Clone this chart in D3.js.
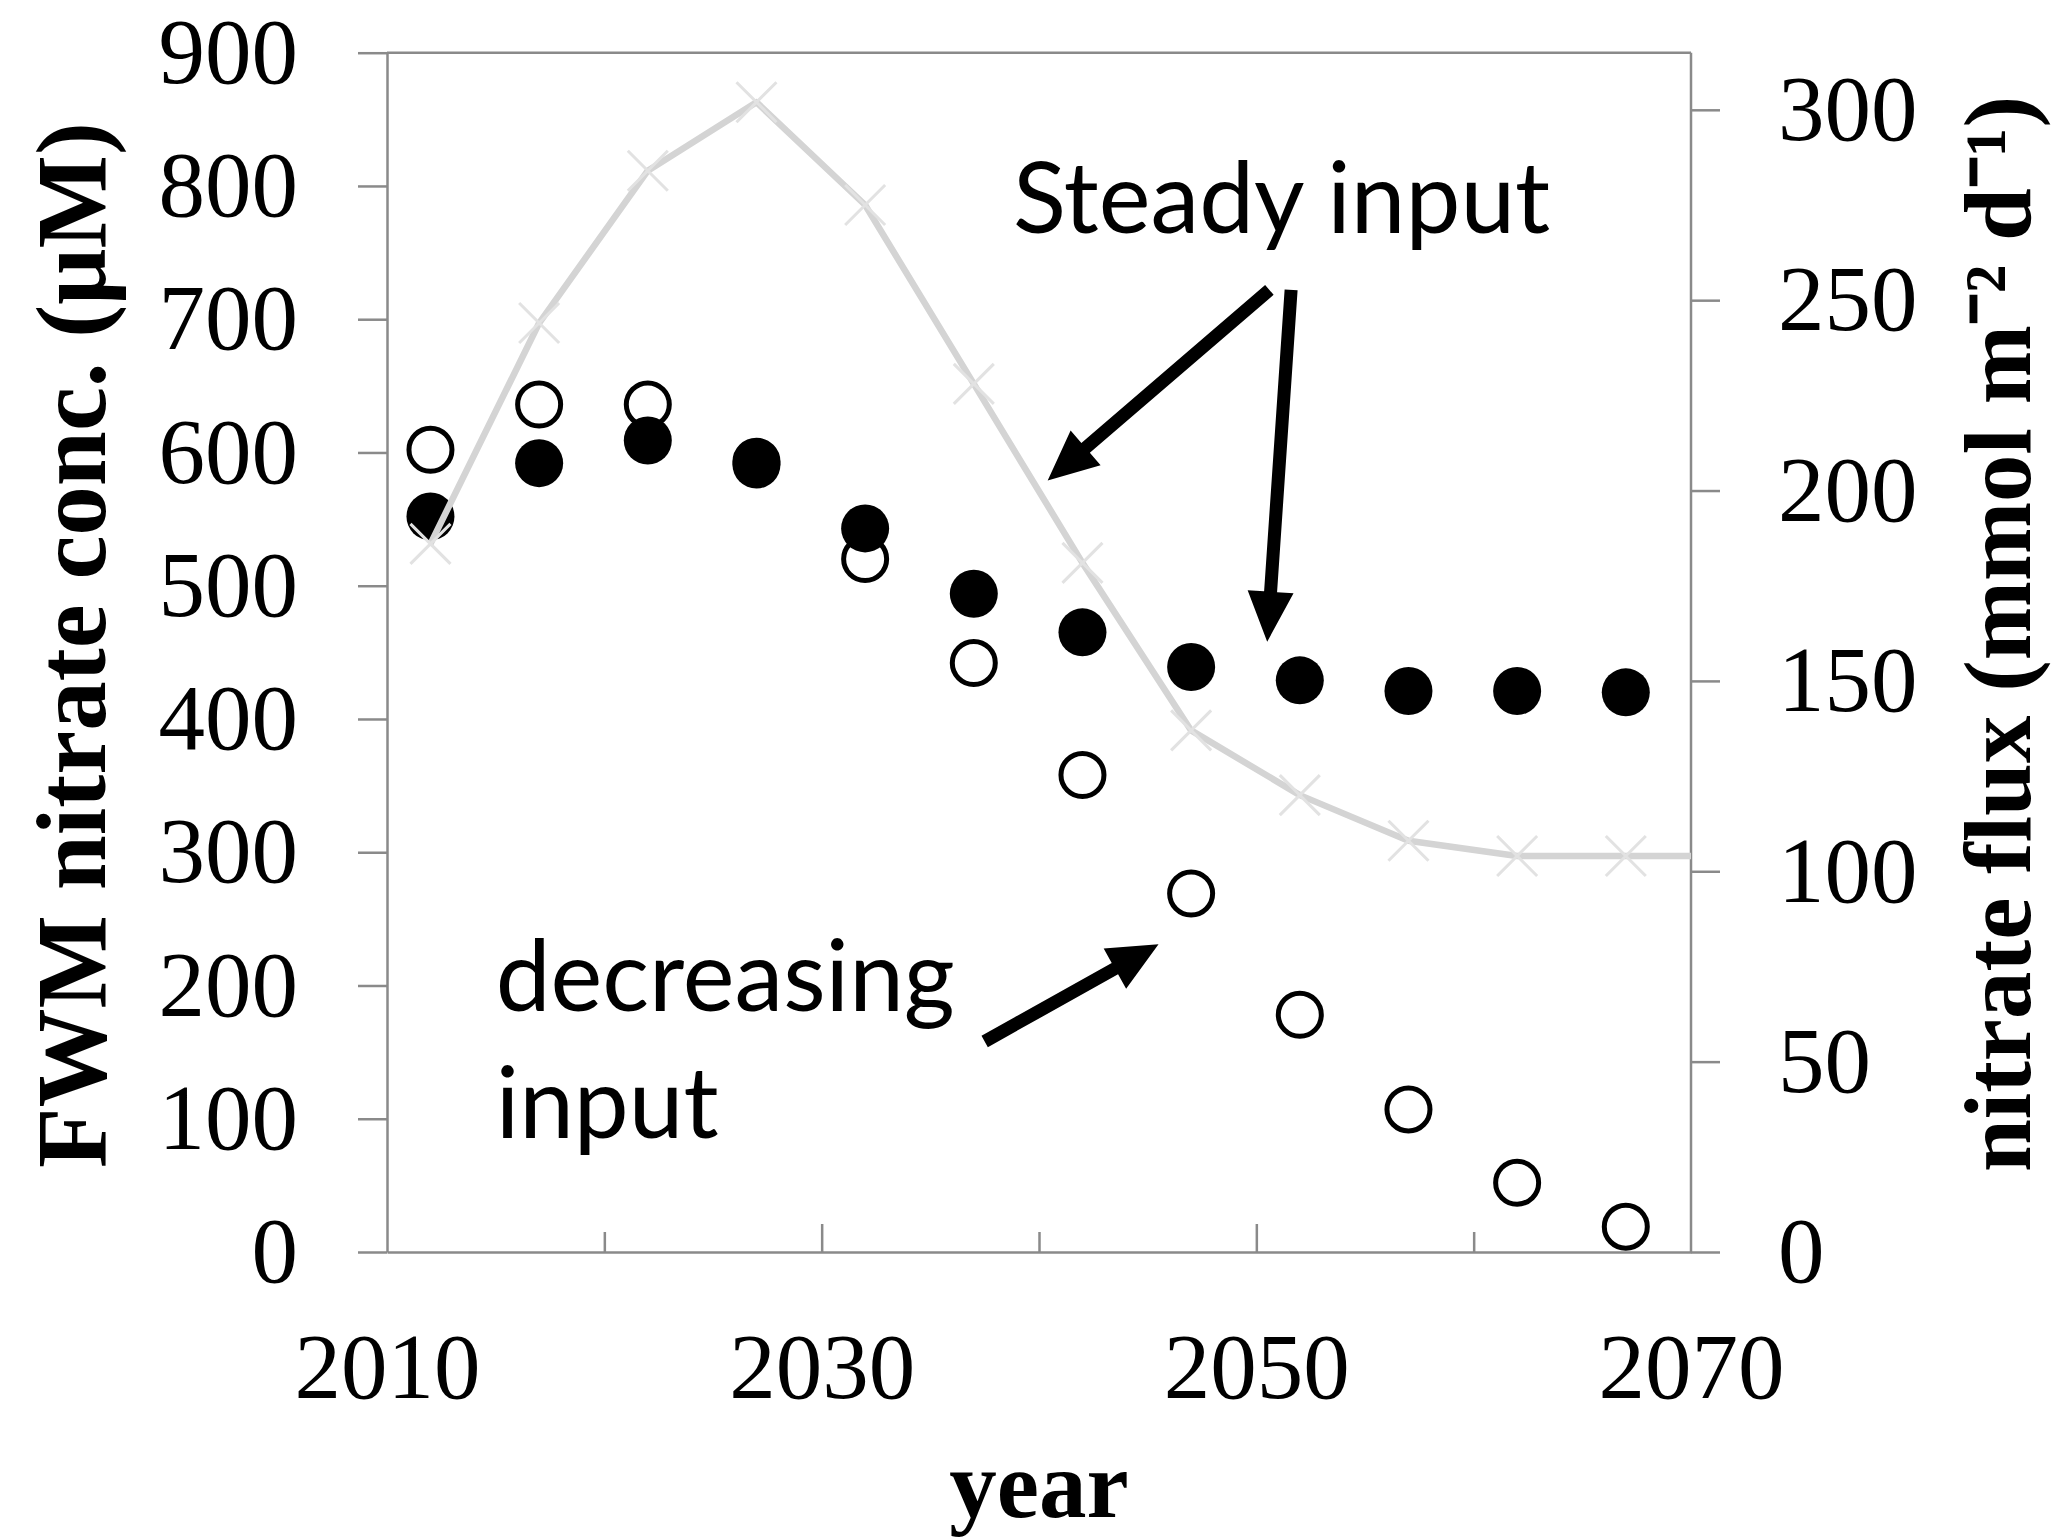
<!DOCTYPE html>
<html>
<head>
<meta charset="utf-8">
<script src="https://cdn.jsdelivr.net/npm/d3@7"></script>
<style>
  html, body { margin: 0; padding: 0; background: #fff; }
  svg { display: block; }
</style>
</head>
<body>
<svg id="chart" width="2065" height="1538"></svg>
<script>
// Model years (5-year steps)
const years = [2012, 2017, 2022, 2027, 2032, 2037, 2042, 2047, 2052, 2057, 2062, 2067];
// FWM nitrate concentration (µM), steady nitrogen input scenario (filled circles)
const steadyInput = [552, 592, 609, 591, 543, 494, 465, 439, 429, 421, 421, 420];
// FWM nitrate concentration (µM), decreasing nitrogen input scenario (open circles)
const decreasingInput = [602, 636, 636, 593, 520, 442, 358, 269, 178, 107, 52, 19];
// Nitrate flux (mmol m-2 d-1), right axis; the last value carries the plateau past the frame
const fluxYears = [2012, 2017, 2022, 2027, 2032, 2037, 2042, 2047, 2052, 2057, 2062, 2067, 2072];
const nitrateFlux = [186, 244, 284, 302, 275, 228, 181, 137, 120, 108, 104, 104, 104];

// Tick values
const leftTicks = [0, 100, 200, 300, 400, 500, 600, 700, 800, 900];
const rightTicks = [0, 50, 100, 150, 200, 250, 300];
const yearLabels = [2010, 2030, 2050, 2070];
const yearMajor = [2030, 2050];
const yearMinor = [2020, 2040, 2060];

// Annotations, anchored in data units (year, left-axis value)
const annotations = [
  { text: "Steady input", year: 2038.8, value: 765 },
  { text: "decreasing", year: 2015.0, value: 181 },
  { text: "input", year: 2015.0, value: 85.5 }
];
const arrows = [
  { from: [2050.6, 722], to: [2040.4, 579] },
  { from: [2051.6, 722], to: [2050.5, 458] },
  { from: [2037.5, 158], to: [2045.5, 231] }
];

const svg = d3.select("#chart");
const plotLeft = 387, plotRight = 1691, plotTop = 52.7, plotBottom = 1252;

const x = d3.scaleLinear().domain([2010, 2070]).range([plotLeft, plotRight]);
const yL = d3.scaleLinear().domain([0, 900]).range([plotBottom, plotTop]);
const yR = d3.scaleLinear().domain([0, 315]).range([plotBottom, plotTop]);

const axisColor = "#8a8a8a";
const serif = "'Liberation Serif', 'Times New Roman', serif";

svg.append("rect").attr("width", 2065).attr("height", 1538).attr("fill", "#fff");

svg.append("defs").append("clipPath").attr("id", "plot-clip")
  .append("rect").attr("x", plotLeft).attr("y", plotTop)
  .attr("width", plotRight - plotLeft).attr("height", plotBottom - plotTop);

function styleAxis(g) {
  g.selectAll("path, line").attr("stroke", axisColor).attr("stroke-width", 2.5);
  g.selectAll("text").attr("font-family", serif).attr("font-size", 93).attr("fill", "#000");
}

// Plot frame (top border)
svg.append("line")
  .attr("x1", plotLeft).attr("x2", plotRight).attr("y1", plotTop).attr("y2", plotTop)
  .attr("stroke", axisColor).attr("stroke-width", 2.5);

// Left axis
svg.append("g")
  .attr("transform", `translate(${plotLeft},0)`)
  .call(d3.axisLeft(yL).tickValues(leftTicks).tickSize(29).tickSizeOuter(0).tickPadding(60))
  .call(styleAxis);

// Right axis
svg.append("g")
  .attr("transform", `translate(${plotRight},0)`)
  .call(d3.axisRight(yR).tickValues(rightTicks).tickSize(29).tickSizeOuter(0).tickPadding(58))
  .call(styleAxis)
  .call(g => g.select(".domain").attr("d", `M0,${plotBottom}V${plotTop}`));

// Bottom axis: line + labels
svg.append("g")
  .attr("transform", `translate(0,${plotBottom})`)
  .call(d3.axisBottom(x).tickValues(yearLabels).tickSize(0).tickSizeOuter(0)
        .tickPadding(80).tickFormat(d3.format("d")))
  .call(styleAxis);
// Inward major / minor ticks
svg.append("g")
  .attr("transform", `translate(0,${plotBottom})`)
  .call(d3.axisBottom(x).tickValues(yearMajor).tickSize(-28).tickFormat(""))
  .call(styleAxis)
  .call(g => g.select(".domain").remove());
svg.append("g")
  .attr("transform", `translate(0,${plotBottom})`)
  .call(d3.axisBottom(x).tickValues(yearMinor).tickSize(-20).tickFormat(""))
  .call(styleAxis)
  .call(g => g.select(".domain").remove());

// Axis titles
svg.append("text")
  .attr("transform", `translate(105,645) rotate(-90)`)
  .attr("text-anchor", "middle")
  .attr("font-family", serif).attr("font-weight", "bold").attr("font-size", 99)
  .text("FWM nitrate conc. (\u03BCM)");

svg.append("text")
  .attr("transform", `translate(2030,634) rotate(-90)`)
  .attr("text-anchor", "middle")
  .attr("font-family", serif).attr("font-weight", "bold").attr("font-size", 95)
  .text("nitrate flux (mmol m\u207B\u00B2 d\u207B\u00B9)");

svg.append("text")
  .attr("x", x(2040)).attr("y", 1517)
  .attr("text-anchor", "middle")
  .attr("font-family", serif).attr("font-weight", "bold").attr("font-size", 95)
  .text("year");

// Data layer
const plot = svg.append("g");

plot.selectAll("circle.decreasing")
  .data(years.map((yr, i) => [yr, decreasingInput[i]]))
  .join("circle").attr("class", "decreasing")
  .attr("cx", d => x(d[0])).attr("cy", d => yL(d[1]))
  .attr("r", 21.5).attr("fill", "#fff").attr("stroke", "#000").attr("stroke-width", 5);

plot.selectAll("circle.steady")
  .data(years.map((yr, i) => [yr, steadyInput[i]]))
  .join("circle").attr("class", "steady")
  .attr("cx", d => x(d[0])).attr("cy", d => yL(d[1]))
  .attr("r", 24).attr("fill", "#000");

const fluxData = fluxYears.map((yr, i) => [yr, nitrateFlux[i]]);
const fluxG = plot.append("g").attr("clip-path", "url(#plot-clip)");
fluxG.append("path")
  .datum(fluxData)
  .attr("d", d3.line().x(d => x(d[0])).y(d => yR(d[1])))
  .attr("fill", "none").attr("stroke", "#d4d4d4").attr("stroke-width", 6.5)
  .attr("stroke-linejoin", "round");
const cross = 20;
fluxG.selectAll("path.mark")
  .data(fluxData)
  .join("path").attr("class", "mark")
  .attr("d", d => {
    const cx = x(d[0]), cy = yR(d[1]);
    return `M${cx - cross},${cy - cross}L${cx + cross},${cy + cross}M${cx - cross},${cy + cross}L${cx + cross},${cy - cross}`;
  })
  .attr("stroke", "#e2e2e2").attr("stroke-width", 3).attr("fill", "none");

// Annotations
svg.selectAll("text.note")
  .data(annotations)
  .join("text").attr("class", "note")
  .attr("x", d => x(d.year)).attr("y", d => yL(d.value))
  .attr("font-family", "Lato, 'Open Sans', sans-serif")
  .attr("font-size", 98).attr("fill", "#000")
  .text(d => d.text);

function arrowPath(a) {
  const x0 = x(a.from[0]), y0 = yL(a.from[1]);
  const x1 = x(a.to[0]), y1 = yL(a.to[1]);
  const dx = x1 - x0, dy = y1 - y0, len = Math.hypot(dx, dy);
  const ux = dx / len, uy = dy / len, nx = -uy, ny = ux;
  const shaft = 6.5, headLen = 50, headW = 23;
  const bx = x1 - ux * headLen, by = y1 - uy * headLen;
  const pts = [
    [x0 + nx * shaft, y0 + ny * shaft],
    [bx + nx * shaft, by + ny * shaft],
    [bx + nx * headW, by + ny * headW],
    [x1, y1],
    [bx - nx * headW, by - ny * headW],
    [bx - nx * shaft, by - ny * shaft],
    [x0 - nx * shaft, y0 - ny * shaft]
  ];
  return "M" + pts.map(p => p.join(",")).join("L") + "Z";
}
svg.selectAll("path.arrow")
  .data(arrows)
  .join("path").attr("class", "arrow")
  .attr("d", arrowPath).attr("fill", "#000");
</script>
</body>
</html>
